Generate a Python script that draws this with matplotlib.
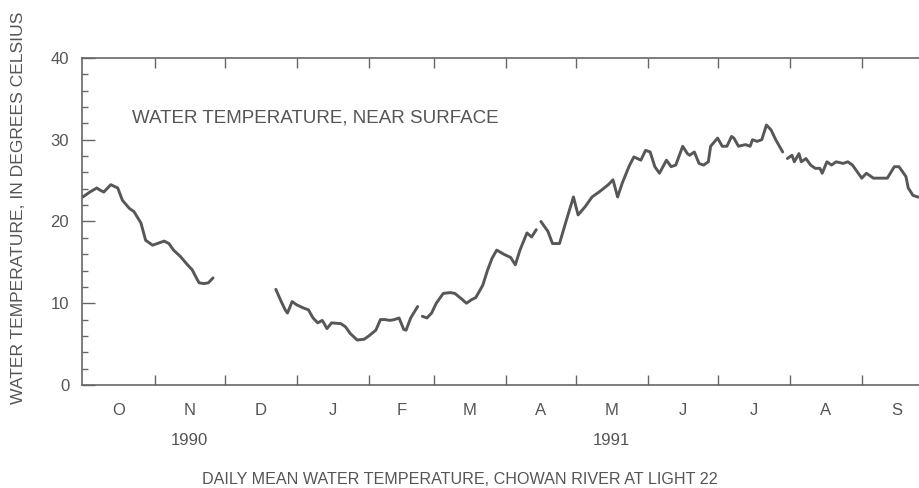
import matplotlib
matplotlib.use('Agg')
import matplotlib.pyplot as plt
import matplotlib as mpl

mpl.rcParams['font.family'] = ['Liberation Sans', 'DejaVu Sans']
mpl.rcParams['text.color'] = '#555555'
mpl.rcParams['axes.edgecolor'] = '#666666'
mpl.rcParams['xtick.color'] = '#666666'
mpl.rcParams['ytick.color'] = '#666666'
mpl.rcParams['xtick.labelcolor'] = '#555555'
mpl.rcParams['ytick.labelcolor'] = '#555555'

# water year Oct 1990 - Sep 1991, x = days since Oct 1 1990
month_labels = ['O', 'N', 'D', 'J', 'F', 'M', 'A', 'M', 'J', 'J', 'A', 'S']
month_days = [31, 30, 31, 31, 28, 31, 30, 31, 30, 31, 31, 30]
year_labels = ['1990', '1991']
year_month = [1, 7]  # under N and M

# daily mean temperature (gaps = missing record)
seg1_day = [0, 1, 3, 6, 7, 9, 12, 15, 17, 20, 22, 25, 27, 30, 32, 35, 37, 39, 42, 45, 47, 49, 50, 52, 54, 56]
seg1_temp = [23.0, 23.2, 23.6, 24.1, 23.9, 23.6, 24.5, 24.1, 22.6, 21.6, 21.2, 19.8, 17.7, 17.1, 17.3, 17.6,
             17.3, 16.5, 15.7, 14.7, 14.1, 13.0, 12.5, 12.4, 12.5, 13.1]

seg2_day = [83, 85, 87, 88, 90, 92, 95, 97, 99, 101, 103, 105, 107, 111, 113, 115, 118, 121, 123, 126,
            128, 130, 132, 134, 136, 138, 139, 141, 144]
seg2_temp = [11.7, 10.4, 9.2, 8.8, 10.2, 9.8, 9.4, 9.2, 8.2, 7.6, 7.9, 6.9, 7.6, 7.5, 7.1, 6.3, 5.5, 5.6,
             6.0, 6.7, 8.0, 8.0, 7.9, 8.0, 8.2, 6.8, 6.7, 8.2, 9.6]

seg3_day = [146, 148, 150, 152, 155, 158, 160, 163, 165, 167, 169, 172, 174, 176, 178, 181, 184, 186,
            188, 191, 193, 195]
seg3_temp = [8.4, 8.2, 8.8, 10.0, 11.2, 11.3, 11.2, 10.5, 10.0, 10.4, 10.7, 12.2, 14.0, 15.5, 16.5, 16.0,
             15.6, 14.7, 16.5, 18.6, 18.1, 19.0]

seg4_day = [197, 200, 202, 205, 208, 211, 213, 216, 219, 222, 226, 228, 230, 232, 235, 237, 240, 242,
            244, 246, 248, 251, 253, 255, 258, 260, 261, 263, 265, 267, 269, 270, 273, 275, 277, 279,
            280, 282, 285, 287, 288, 290, 292, 294, 296, 298, 301]
seg4_temp = [20.0, 18.8, 17.3, 17.3, 20.2, 23.0, 20.8, 21.8, 23.0, 23.6, 24.5, 25.1, 23.0, 24.7, 26.8,
             27.9, 27.5, 28.7, 28.5, 26.7, 25.9, 27.5, 26.7, 26.9, 29.2, 28.3, 28.1, 28.5, 27.1, 26.9,
             27.3, 29.2, 30.2, 29.2, 29.2, 30.4, 30.2, 29.2, 29.4, 29.2, 30.0, 29.8, 30.0, 31.8, 31.2,
             30.0, 28.5]

seg5_day = [303, 305, 306, 308, 309, 311, 313, 315, 317, 318, 320, 322, 324, 327, 329, 331, 335, 337,
            340, 343, 346, 349, 351, 354, 355, 357, 359, 362, 364]
seg5_temp = [27.7, 28.1, 27.3, 28.3, 27.3, 27.7, 26.9, 26.5, 26.5, 25.9, 27.3, 26.9, 27.3, 27.1, 27.3,
             26.9, 25.3, 25.9, 25.3, 25.3, 25.3, 26.7, 26.7, 25.5, 24.1, 23.2, 23.0, 22.9, 23.0]

segments = [(seg1_day, seg1_temp), (seg2_day, seg2_temp), (seg3_day, seg3_temp),
            (seg4_day, seg4_temp), (seg5_day, seg5_temp)]

fig = plt.figure(figsize=(9.2, 4.88), dpi=100)
# axes runs a little past the right edge of the picture, like the scan
ax = fig.add_axes([0.0888, 0.2111, 0.9232, 0.6701])

for d, t in segments:
    ax.plot(d, t, color='#575757', lw=2.1, solid_joinstyle='round', solid_capstyle='round')

ax.set_xlim(-0.5, 364.8)
ax.set_ylim(0, 40)

bounds = []
start = 0
for n in month_days:
    bounds.append(start)
    start += n
mids = [b + n / 2 for b, n in zip(bounds, month_days)]

ax.set_xticks(bounds[1:])
ax.set_xticklabels([])
ax.set_xticks(mids, minor=True)
ax.set_xticklabels(month_labels, minor=True, fontsize=12)
ax.tick_params(axis='x', which='major', direction='in', length=7.5, width=1, top=True)
ax.tick_params(axis='x', which='minor', length=0, pad=13)

ax.set_yticks([0, 10, 20, 30, 40])
ax.set_yticks(range(0, 41, 2), minor=True)
ax.tick_params(axis='y', which='major', direction='in', length=9, width=1, right=True,
               labelsize=12, pad=9)
ax.tick_params(axis='y', which='minor', direction='in', length=4.5, width=1, right=True)

for sp in ax.spines.values():
    sp.set_linewidth(1.2)

for lab, m in zip(year_labels, year_month):
    ax.text(mids[m], -0.17, lab, transform=ax.get_xaxis_transform(),
            ha='center', va='center', fontsize=12)

ax.text(21, 32.7, 'WATER TEMPERATURE, NEAR SURFACE', ha='left', va='center', fontsize=13.5)

fig.text(0.0196, 0.574, 'WATER TEMPERATURE, IN DEGREES CELSIUS', rotation=90,
         ha='center', va='center', fontsize=12.6)
fig.text(0.5, 0.0164, 'DAILY MEAN WATER TEMPERATURE, CHOWAN RIVER AT LIGHT 22',
         ha='center', va='center', fontsize=11.6)

plt.savefig('out.png', dpi=100)
